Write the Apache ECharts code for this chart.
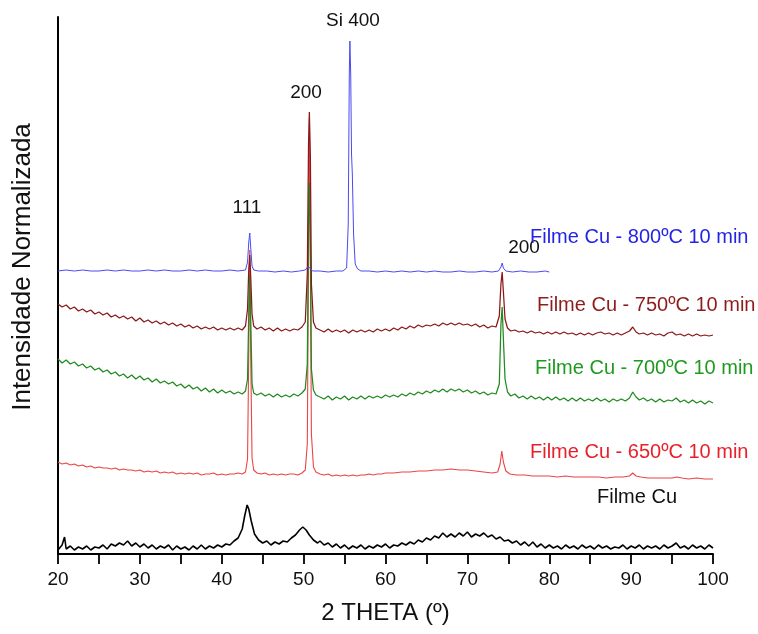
<!DOCTYPE html>
<html>
<head>
<meta charset="utf-8">
<script src="https://cdn.jsdelivr.net/npm/echarts@6/dist/echarts.min.js"></script>
<style>
  html, body { margin: 0; padding: 0; background: #fff; }
  #chart { width: 758px; height: 634px; }
</style>
</head>
<body>
<div id="chart"></div>
<script>
// XRD patterns of Cu films, stacked with vertical offsets (arbitrary normalized units)
const xTicks = [20, 30, 40, 50, 60, 70, 80, 90, 100];

// As-deposited film
const filmeCu = [
  [20,4],[20.5,9],[20.8,17],[21,5],[21.5,8],[22,4],[22.5,7],[23,5],[23.5,8],[24,4],[24.5,7],[25,6],[25.5,9],[26,5],[26.5,10],
  [27,8],[27.5,11],[28,9],[28.5,13],[29,8],[29.5,11],[30,7],[30.5,10],[31,6],[31.5,9],[32,5],[32.5,8],[33,6],[33.5,9],[34,4],
  [34.5,8],[35,5],[35.5,7],[36,4],[36.5,8],[37,5],[37.5,9],[38,5],[38.5,8],[39,6],[39.5,9],[40,7],[40.5,10],[41,9],[41.5,13],
  [42,16],[42.5,25],[42.8,38],[43.1,49],[43.3,45],[43.6,33],[44,20],[44.5,14],[45,11],[45.5,13],[46,9],[46.5,12],[47,10],[47.5,13],
  [48,12],[48.5,16],[49,19],[49.5,24],[49.9,27],[50.3,24],[50.7,19],[51.2,14],[51.7,11],[52,13],[52.5,9],[53,11],[53.5,7],[54,10],
  [54.5,6],[55,9],[55.5,5],[56,8],[56.5,6],[57,9],[57.5,5],[58,8],[58.5,6],[59,9],[59.5,7],[60,10],[60.5,6],[61,9],[61.5,8],
  [62,11],[62.5,9],[63,12],[63.5,10],[64,14],[64.5,12],[65,16],[65.5,14],[66,18],[66.5,16],[67,21],[67.5,17],[68,20],[68.5,17],
  [69,21],[69.5,18],[70,22],[70.5,17],[71,20],[71.5,18],[72,21],[72.5,17],[73,19],[73.5,15],[74,17],[74.5,13],[75,14],[75.5,11],
  [76,13],[76.5,9],[77,12],[77.5,8],[78,12],[78.5,7],[79,10],[79.5,6],[80,9],[80.5,6],[81,8],[81.5,5],[82,9],[82.5,6],[83,8],
  [83.5,5],[84,9],[84.5,6],[85,8],[85.5,5],[86,9],[86.5,6],[87,8],[87.5,5],[88,7],[88.5,6],[89,9],[89.5,5],[90,8],[90.5,6],
  [91,9],[91.5,5],[92,8],[92.5,6],[93,8],[93.5,5],[94,9],[94.5,6],[95,8],[95.5,11],[96,6],[96.5,8],[97,5],[97.5,9],[98,6],
  [98.5,8],[99,5],[99.5,9],[100,6]
];

// Annealed 650 ºC, 10 min
const cu650 = [
  [20,92],[20.5,90],[21,91],[21.5,89],[22,90],[22.5,88],[23,89],[23.5,87],[24,88],[24.5,86],[25,87],[25.5,86],[26,86],[26.5,85],
  [27,86],[27.5,84],[28,85],[28.5,84],[29,84],[29.5,83],[30,84],[30.5,82],[31,83],[31.5,82],[32,83],[32.5,81],[33,82],[33.5,81],
  [34,82],[34.5,80],[35,81],[35.5,80],[36,81],[36.5,80],[37,81],[37.5,79],[38,80],[38.5,80],[39,81],[39.5,79],[40,80],[40.5,79],
  [41,80],[41.5,80],[42,81],[42.5,80],[42.9,82],[43.15,95],[43.3,200],[43.42,304],[43.55,190],[43.7,96],[43.9,84],[44.3,81],
  [44.8,80],[45.3,81],[45.8,79],[46.3,80],[46.8,79],[47.3,80],[47.8,79],[48.3,80],[48.8,80],[49.3,79],[49.8,81],[50.2,84],
  [50.45,110],[50.6,300],[50.7,436],[50.82,290],[50.95,120],[51.2,87],[51.5,82],[52,80],[52.5,79],[53,80],[53.5,78],[54,79],
  [54.5,78],[55,79],[55.5,78],[56,79],[56.5,78],[57,79],[57.5,79],[58,80],[58.5,79],[59,80],[59.5,80],[60,81],[61,81],[62,82],
  [63,82],[64,83],[65,83],[66,84],[67,84],[68,85],[69,84],[70,84],[71,83],[72,82],[73,81],[73.7,82],[74.0,90],[74.2,103],
  [74.4,92],[74.7,83],[75.2,80],[76,79],[77,79],[78,78],[79,78],[80,78],[81,77],[82,78],[83,77],[84,77],[85,77],[86,77],
  [87,76],[88,77],[89,77],[89.8,78],[90.2,81],[90.6,78],[91.2,77],[92,76],[93,76],[94,76],[95,76],[95.6,77],[96.2,76],
  [97,75],[98,76],[99,75],[100,75]
];

// Annealed 700 ºC, 10 min
const cu700 = [
  [20,195],[20.5,191],[21,194],[21.5,190],[22,192],[22.5,188],[23,190],[23.5,186],[24,188],[24.5,184],[25,186],[25.5,182],
  [26,184],[26.5,180],[27,182],[27.5,178],[28,180],[28.5,176],[29,179],[29.5,175],[30,178],[30.5,174],[31,176],[31.5,172],
  [32,175],[32.5,171],[33,173],[33.5,170],[34,172],[34.5,168],[35,170],[35.5,166],[36,169],[36.5,165],[37,167],[37.5,163],
  [38,166],[38.5,162],[39,165],[39.5,161],[40,164],[40.5,161],[41,163],[41.5,160],[42,162],[42.5,160],[42.9,163],[43.15,175],
  [43.3,240],[43.42,279],[43.55,230],[43.7,170],[43.9,161],[44.3,159],[44.8,161],[45.3,158],[45.8,160],[46.3,157],[46.8,160],
  [47.3,157],[47.8,159],[48.3,157],[48.8,160],[49.3,158],[49.8,161],[50.2,165],[50.45,190],[50.6,330],[50.7,371],[50.82,320],
  [50.95,185],[51.2,164],[51.5,159],[52,157],[52.5,155],[53,158],[53.5,154],[54,157],[54.5,155],[55,158],[55.5,154],[56,157],
  [56.5,155],[57,158],[57.5,155],[58,158],[58.5,156],[59,158],[59.5,156],[60,159],[60.5,157],[61,159],[61.5,157],[62,160],
  [62.5,158],[63,161],[63.5,159],[64,162],[64.5,160],[65,163],[65.5,161],[66,164],[66.5,162],[67,165],[67.5,162],[68,165],
  [68.5,163],[69,165],[69.5,162],[70,164],[70.5,161],[71,163],[71.5,160],[72,162],[72.5,159],[73,161],[73.5,160],[73.9,170],
  [74.1,230],[74.25,247],[74.4,215],[74.6,175],[74.9,162],[75.3,158],[75.8,160],[76.3,156],[76.8,158],[77.3,155],[77.8,158],
  [78.3,155],[78.8,157],[79.3,154],[79.8,157],[80.3,154],[80.8,157],[81.3,154],[81.8,156],[82.3,153],[82.8,156],[83.3,153],
  [83.8,156],[84.3,153],[84.8,155],[85.3,153],[85.8,156],[86.3,153],[86.8,155],[87.3,152],[87.8,155],[88.3,153],[88.8,155],
  [89.3,153],[89.8,156],[90.2,162],[90.6,157],[91,154],[91.5,156],[92,153],[92.5,155],[93,152],[93.5,155],[94,152],[94.5,154],
  [95,153],[95.5,156],[96,152],[96.5,154],[97,151],[97.5,154],[98,151],[98.5,153],[99,150],[99.5,153],[100,151]
];

// Annealed 750 ºC, 10 min
const cu750 = [
  [20,250],[20.5,247],[21,249],[21.5,245],[22,247],[22.5,243],[23,245],[23.5,242],[24,244],[24.5,240],[25,242],[25.5,239],
  [26,241],[26.5,237],[27,239],[27.5,236],[28,238],[28.5,235],[29,237],[29.5,233],[30,236],[30.5,232],[31,234],[31.5,231],
  [32,233],[32.5,230],[33,232],[33.5,229],[34,231],[34.5,228],[35,230],[35.5,227],[36,229],[36.5,226],[37,228],[37.5,225],
  [38,227],[38.5,225],[39,227],[39.5,224],[40,226],[40.5,224],[41,226],[41.5,224],[42,226],[42.5,224],[42.9,228],[43.15,245],
  [43.3,285],[43.42,299],[43.55,275],[43.7,240],[43.9,228],[44.3,225],[44.8,227],[45.3,224],[45.8,226],[46.3,223],[46.8,226],
  [47.3,223],[47.8,225],[48.3,223],[48.8,225],[49.3,224],[49.8,227],[50.2,232],[50.45,280],[50.6,410],[50.7,442],[50.82,400],
  [50.95,270],[51.2,232],[51.5,226],[52,224],[52.5,222],[53,225],[53.5,222],[54,224],[54.5,222],[55,224],[55.5,221],[56,224],
  [56.5,222],[57,224],[57.5,222],[58,224],[58.5,222],[59,225],[59.5,223],[60,225],[60.5,223],[61,226],[61.5,224],[62,227],
  [62.5,225],[63,228],[63.5,226],[64,229],[64.5,227],[65,229],[65.5,228],[66,230],[66.5,228],[67,231],[67.5,229],[68,231],
  [68.5,229],[69,231],[69.5,229],[70,230],[70.5,228],[71,230],[71.5,227],[72,229],[72.5,226],[73,228],[73.5,227],[73.9,238],
  [74.1,270],[74.25,282],[74.4,262],[74.6,235],[74.9,226],[75.3,223],[75.8,224],[76.3,222],[76.8,223],[77.3,221],[77.8,223],
  [78.3,221],[78.8,222],[79.3,220],[79.8,222],[80.3,220],[80.8,222],[81.3,220],[81.8,222],[82.3,220],[82.8,221],[83.3,219],
  [83.8,221],[84.3,219],[84.8,221],[85.3,219],[85.8,221],[86.3,222],[86.8,220],[87.3,221],[87.8,219],[88.3,221],[88.8,219],
  [89.3,221],[89.8,223],[90.2,227],[90.6,222],[91,220],[91.5,221],[92,219],[92.5,221],[93,219],[93.5,220],[94,218],[94.5,221],
  [95,222],[95.5,219],[96,220],[96.5,218],[97,220],[97.5,218],[98,220],[98.5,218],[99,219],[99.5,218],[100,219]
];

// Annealed 800 ºC, 10 min (scan to 80º)
const cu800 = [
  [20,283],[21,284],[22,283],[23,284],[24,283],[25,283],[26,284],[27,283],[28,284],[29,283],[30,283],[31,284],[32,283],
  [33,284],[34,283],[35,283],[36,284],[37,283],[38,284],[39,283],[40,283],[41,284],[42,283],[42.9,284],[43.15,292],[43.3,312],
  [43.42,321],[43.55,305],[43.7,288],[43.9,284],[44.5,283],[45.5,283],[46.5,282],[47.5,283],[48.5,282],[49.5,283],[50.2,284],
  [50.5,287],[50.65,289],[50.8,286],[51.1,283],[52,283],[53,282],[54,283],[54.8,283],[55.25,286],[55.45,330],[55.58,480],
  [55.65,513],[55.75,480],[55.85,400],[55.95,380],[56.1,320],[56.3,290],[56.6,285],[57,283],[58,283],[59,282],[60,283],
  [61,282],[62,283],[63,282],[64,283],[65,282],[66,283],[67,282],[68,282],[69,283],[70,282],[71,282],[72,283],[73,282],
  [73.8,283],[74.1,287],[74.25,291],[74.4,286],[74.7,283],[75.5,282],[76.5,283],[77.5,282],[78.5,282],[79.5,283],[80,282]
];

const seriesNames = ['Filme Cu', 'Filme Cu - 650ºC 10 min', 'Filme Cu - 700ºC 10 min', 'Filme Cu - 750ºC 10 min', 'Filme Cu - 800ºC 10 min'];
const seriesData = [filmeCu, cu650, cu700, cu750, cu800];
const lineColors = ['#000000', '#ec4444', '#1f8a1f', '#8a1818', '#4a4af2'];
const lineWidths = [1.6, 1.1, 1.25, 1.25, 1];
const textColors = ['#111111', '#e8202a', '#1e9a1e', '#8e1c1c', '#2424e6'];

const peakLabels = ['111', '200', 'Si 400', '200'];

const font = 'Liberation Sans, Arial, sans-serif';
const chart = echarts.init(document.getElementById('chart'));

const graphics = [
  { type: 'text', x: 23, y: 267, rotation: Math.PI / 2,
    style: { text: 'Intensidade Normalizada', font: '26px ' + font, fill: '#111', align: 'center', verticalAlign: 'middle' } },
  // reflection labels
  { type: 'text', x: 247, y: 208, style: { text: peakLabels[0], font: '19px ' + font, fill: '#111', align: 'center', verticalAlign: 'middle' } },
  { type: 'text', x: 306, y: 93, style: { text: peakLabels[1], font: '19px ' + font, fill: '#111', align: 'center', verticalAlign: 'middle' } },
  { type: 'text', x: 353, y: 21, style: { text: peakLabels[2], font: '19px ' + font, fill: '#111', align: 'center', verticalAlign: 'middle' } },
  { type: 'text', x: 524, y: 248, style: { text: peakLabels[3], font: '19px ' + font, fill: '#111', align: 'center', verticalAlign: 'middle' } },
  // curve labels
  { type: 'text', x: 530, y: 237, style: { text: seriesNames[4], font: '20px ' + font, fill: textColors[4], align: 'left', verticalAlign: 'middle' } },
  { type: 'text', x: 537, y: 305, style: { text: seriesNames[3], font: '20px ' + font, fill: textColors[3], align: 'left', verticalAlign: 'middle' } },
  { type: 'text', x: 535, y: 368, style: { text: seriesNames[2], font: '20px ' + font, fill: textColors[2], align: 'left', verticalAlign: 'middle' } },
  { type: 'text', x: 530, y: 452, style: { text: seriesNames[1], font: '20px ' + font, fill: textColors[1], align: 'left', verticalAlign: 'middle' } },
  { type: 'text', x: 597, y: 497, style: { text: seriesNames[0], font: '20px ' + font, fill: textColors[0], align: 'left', verticalAlign: 'middle' } }
];

chart.setOption({
  animation: false,
  backgroundColor: '#ffffff',
  grid: { left: 58, right: 45, top: 17, bottom: 80 },
  xAxis: {
    type: 'value',
    min: xTicks[0],
    max: xTicks[xTicks.length - 1],
    interval: 10,
    name: '2 THETA (º)',
    nameLocation: 'middle',
    nameGap: 47,
    nameTextStyle: { fontFamily: font, fontSize: 24, color: '#111' },
    axisLine: { lineStyle: { color: '#000', width: 2 } },
    axisTick: { show: true, inside: false, length: 10, lineStyle: { color: '#000', width: 1.8 } },
    minorTick: { show: true, splitNumber: 2, length: 10, lineStyle: { color: '#000', width: 1.8 } },
    axisLabel: { fontFamily: font, fontSize: 19, color: '#111', margin: 16 },
    splitLine: { show: false },
    minorSplitLine: { show: false }
  },
  yAxis: {
    type: 'value',
    min: 0,
    max: 537,
    axisLine: { show: true, onZero: false, lineStyle: { color: '#000', width: 2 } },
    axisTick: { show: false },
    axisLabel: { show: false },
    splitLine: { show: false }
  },
  graphic: graphics,
  series: seriesData.map((d, i) => ({
    name: seriesNames[i],
    type: 'line',
    data: d,
    symbol: 'none',
    clip: false,
    lineStyle: { color: lineColors[i], width: lineWidths[i] },
    z: 2 + i
  }))
});
</script>
</body>
</html>
